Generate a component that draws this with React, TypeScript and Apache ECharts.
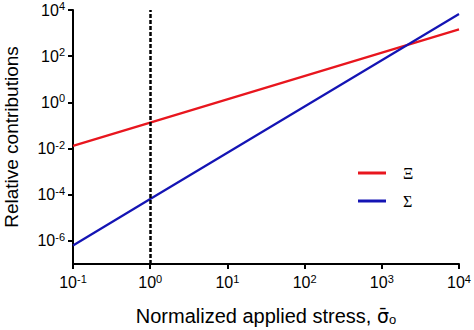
import React, { useEffect, useRef } from "react";
import * as echarts from "echarts";

const xTicks = [0.1, 1, 10, 100, 1000, 10000];
const yTicks = [1e-6, 1e-4, 1e-2, 1, 1e2, 1e4];
const xiX = [0.1, 1, 10000];
const xiY = [0.013, 0.133, 1450];
const sigmaX = [0.1, 1, 10000];
const sigmaY = [6.3e-7, 6.5e-5, 6.7e3];
const refLineX = 1;
const seriesNames = ["\u039E", "\u03A3"];

const pow10 = (v: number) => {
  const e = Math.round(Math.log10(v));
  return `{b|10}{s|${e}}`;
};

const labelRich = {
  b: { fontSize: 16, fontFamily: "Liberation Sans, Arial", color: "#000" },
  s: { fontSize: 11, fontFamily: "Liberation Sans, Arial", color: "#000", padding: [0, 0, 8, 0] },
};

export default function App() {
  const ref = useRef<HTMLDivElement>(null);
  useEffect(() => {
    if (!ref.current) return;
    const chart = echarts.init(ref.current, undefined, { renderer: "svg" });
    chart.setOption({
      animation: false,
      grid: { left: 73, right: 15, top: 10, bottom: 66, containLabel: false, outerBoundsMode: "none" },
      legend: {
        orient: "vertical",
        left: 353,
        top: 160,
        itemWidth: 28,
        itemHeight: 3,
        itemGap: 12,
        icon: "rect",
        data: seriesNames,
        textStyle: {
          fontFamily: "Liberation Serif, DejaVu Serif, serif",
          fontSize: 16,
          color: "#000",
          padding: [0, 0, 0, 12],
        },
      },
      xAxis: {
        type: "log",
        logBase: 10,
        min: 0.1,
        max: 10000,
        name: "Normalized applied stress, {sig|\u03C3\u0304}{sub|o}",
        nameLocation: "middle",
        nameGap: 42,
        nameTextStyle: {
          fontSize: 20,
          fontFamily: "Liberation Sans, Arial",
          color: "#000",
          rich: {
            sig: { fontSize: 19, fontFamily: "DejaVu Sans", color: "#000" },
            sub: { fontSize: 13, fontFamily: "Liberation Sans, Arial", color: "#000", padding: [7, 0, 0, 0] },
          },
        },
        axisLine: { lineStyle: { color: "#000", width: 2 } },
        axisTick: { show: true, length: 5, lineStyle: { color: "#000", width: 2 }, customValues: xTicks },
        axisLabel: { customValues: xTicks, formatter: pow10, rich: labelRich, margin: 9 },
        splitLine: { show: false },
        minorTick: { show: false },
      },
      yAxis: {
        type: "log",
        logBase: 10,
        min: 1e-7,
        max: 1e4,
        name: "Relative contributions",
        nameLocation: "middle",
        nameGap: 52,
        nameTextStyle: { fontSize: 19, fontFamily: "Liberation Sans, Arial", color: "#000" },
        axisLine: { lineStyle: { color: "#000", width: 2 } },
        axisTick: { show: true, length: 5, lineStyle: { color: "#000", width: 2 }, customValues: yTicks },
        axisLabel: { customValues: yTicks, formatter: pow10, rich: labelRich, margin: 8 },
        splitLine: { show: false },
      },
      series: [
        {
          name: seriesNames[0],
          type: "line",
          data: xiX.map((x, i) => [x, xiY[i]]),
          showSymbol: false,
          symbol: "none",
          itemStyle: { color: "#e8161e" },
          lineStyle: { color: "#e8161e", width: 2.2 },
          z: 3,
          markLine: {
            silent: true,
            symbol: "none",
            label: { show: false },
            lineStyle: { color: "#000", width: 2.5, type: [4, 2] },
            data: [{ xAxis: refLineX }],
          },
        },
        {
          name: seriesNames[1],
          type: "line",
          data: sigmaX.map((x, i) => [x, sigmaY[i]]),
          showSymbol: false,
          symbol: "none",
          itemStyle: { color: "#1414b4" },
          lineStyle: { color: "#1414b4", width: 2.2 },
          z: 4,
        },
      ],
    });
    return () => chart.dispose();
  }, []);
  return <div ref={ref} style={{ width: 474, height: 330, position: "absolute", left: 0, top: 0 }} />;
}
